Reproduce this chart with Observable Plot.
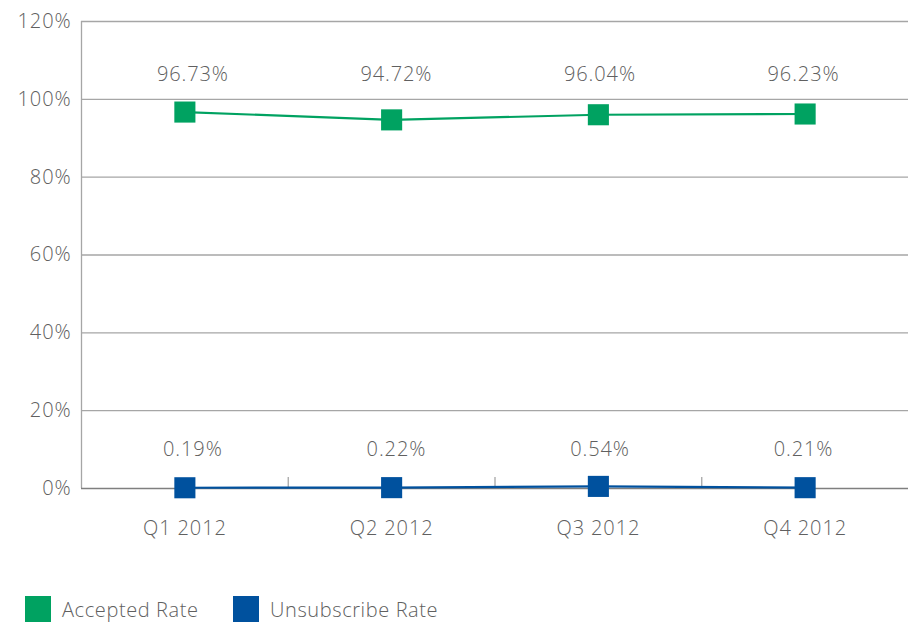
<!DOCTYPE html>
<html>
<head>
<meta charset="utf-8">
<script src="https://cdn.jsdelivr.net/npm/d3@7"></script>
<script src="https://cdn.jsdelivr.net/npm/@observablehq/plot@0.6"></script>
<style>
  html, body { margin: 0; padding: 0; background: #fff; }
  body { width: 914px; height: 623px; overflow: hidden; font-family: "Open Sans", sans-serif; font-weight: 300; }
  #legend { position: relative; height: 43px; font-size: 20px; color: #606060; letter-spacing: 0.6px; }
  .item { position: absolute; top: 15px; display: flex; align-items: center; }
  .item span { position: relative; top: 1px; }
  .sw { width: 26px; height: 26px; margin-right: 11px; }
  svg text { letter-spacing: 0.9px; }
</style>
</head>
<body>
<div id="chart"></div>
<div id="legend"></div>
<script>
const quarters = ["Q1 2012", "Q2 2012", "Q3 2012", "Q4 2012"];
const acceptedRate = [96.73, 94.72, 96.04, 96.23];
const unsubscribeRate = [0.19, 0.22, 0.54, 0.21];
const seriesNames = ["Accepted Rate", "Unsubscribe Rate"];
const seriesColors = ["#00a261", "#00519e"];
const yTicks = [0, 20, 40, 60, 80, 100, 120];

const seriesMax = {
  [seriesNames[0]]: d3.max(acceptedRate),
  [seriesNames[1]]: d3.max(unsubscribeRate)
};
const rows = [];
quarters.forEach((q, i) => {
  rows.push({i, q, series: seriesNames[0], v: acceptedRate[i]});
  rows.push({i, q, series: seriesNames[1], v: unsubscribeRate[i]});
});
const boundaries = quarters.slice(0, -1).map((q, i) => i + 0.5);
const textColor = "#606060";

const labelMarks = quarters.map((q, i) =>
  Plot.text(rows.filter(d => d.i === i), {
    x: "i", y: d => seriesMax[d.series],
    text: d => d.v.toFixed(2) + "%",
    dy: -37, dx: 8 - 3.2 * i,
    fill: textColor, fontSize: 20, fontWeight: 300
  })
);

const chart = Plot.plot({
  width: 914,
  height: 580,
  marginLeft: 81,
  marginRight: 6,
  marginTop: 21,
  marginBottom: 92,
  style: {fontFamily: "Open Sans, sans-serif", fontSize: "20px", fontWeight: 300, color: textColor},
  x: {domain: [-0.5, quarters.length - 0.5]},
  y: {domain: [0, 120]},
  color: {domain: seriesNames, range: seriesColors},
  marks: [
    Plot.ruleY(yTicks.filter(d => d > 0), {stroke: "#a6a6a6", strokeWidth: 1.3}),
    Plot.ruleX([-0.5], {y1: 0, y2: 120, stroke: "#a6a6a6", strokeWidth: 1.3}),
    Plot.ruleX(boundaries, {y1: 0, y2: 2.8, stroke: "#a6a6a6", strokeWidth: 1.3}),
    Plot.ruleY([0], {stroke: "#7f7f7f", strokeWidth: 1.3}),
    Plot.axisY({ticks: yTicks, tickSize: 0, tickPadding: 10, tickFormat: d => d + "%", fill: textColor, fontSize: 20, fontWeight: 300, label: null}),
    Plot.axisX({ticks: quarters.map((q, i) => i), tickSize: 0, tickPadding: 32, tickFormat: i => quarters[i], fill: textColor, fontSize: 20, fontWeight: 300, label: null}),
    Plot.line(rows, {x: "i", y: "v", z: "series", stroke: "series", strokeWidth: 2.2}),
    Plot.dot(rows, {x: "i", y: "v", fill: "series", symbol: "square", r: 11.9, stroke: null}),
    ...labelMarks
  ]
});
document.getElementById("chart").appendChild(chart);

const legend = document.getElementById("legend");
const lefts = [25, 233];
seriesNames.forEach((name, k) => {
  const item = document.createElement("div");
  item.className = "item";
  item.style.left = lefts[k] + "px";
  item.innerHTML = `<div class="sw" style="background:${seriesColors[k]}"></div><span>${name}</span>`;
  legend.appendChild(item);
});
</script>
</body>
</html>
